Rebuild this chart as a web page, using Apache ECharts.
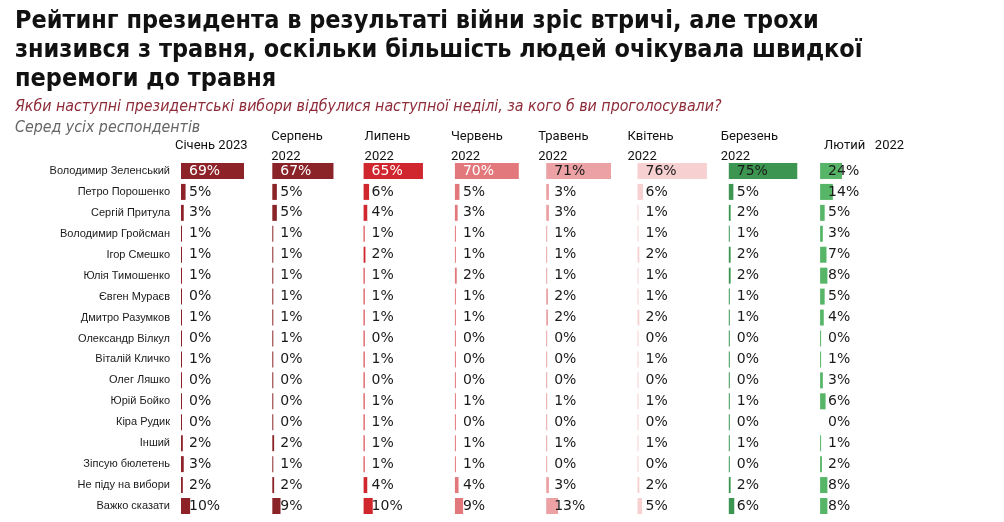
<!DOCTYPE html>
<html>
<head>
<meta charset="utf-8">
<script src="https://cdn.jsdelivr.net/npm/echarts@6/dist/echarts.min.js"></script>
<style>
  html, body { margin: 0; padding: 0; background: #fff; }
  #chart { width: 1004px; height: 522px; }
</style>
</head>
<body>
<div id="chart"></div>
<script>
// candidates, top to bottom
var candidates = [
  'Володимир Зеленський', 'Петро Порошенко', 'Сергій Притула', 'Володимир Гройсман',
  'Ігор Смешко', 'Юлія Тимошенко', 'Євген Мураєв', 'Дмитро Разумков',
  'Олександр Вілкул', 'Віталій Кличко', 'Олег Ляшко', 'Юрій Бойко',
  'Кіра Рудик', 'Інший', 'Зіпсую бюлетень', 'Не піду на вибори', 'Важко сказати'
];

// survey waves, left to right
var waves = ['Січень 2023', 'Серпень\n2022', 'Липень\n2022', 'Червень\n2022',
             'Травень\n2022', 'Квітень\n2022', 'Березень\n2022', 'Лютий   2022'];

var jan23 = [69, 5, 3, 1, 1, 1, 0, 1, 0, 1, 0, 0, 0, 2, 3, 2, 10];
var aug22 = [67, 5, 5, 1, 1, 1, 1, 1, 1, 0, 0, 0, 0, 2, 1, 2, 9];
var jul22 = [65, 6, 4, 1, 2, 1, 1, 1, 0, 1, 0, 1, 1, 1, 1, 4, 10];
var jun22 = [70, 5, 3, 1, 1, 2, 1, 1, 0, 0, 0, 1, 0, 1, 1, 4, 9];
var may22 = [71, 3, 3, 1, 1, 1, 2, 2, 0, 0, 0, 1, 0, 1, 0, 3, 13];
var apr22 = [76, 6, 1, 1, 2, 1, 1, 2, 0, 1, 0, 1, 0, 1, 0, 2, 5];
var mar22 = [75, 5, 2, 1, 2, 2, 1, 1, 0, 0, 0, 1, 0, 1, 0, 2, 6];
var feb22 = [24, 14, 5, 3, 7, 8, 5, 4, 0, 1, 3, 6, 0, 1, 2, 8, 8];

var waveValues = [jan23, aug22, jul22, jun22, may22, apr22, mar22, feb22];
var waveColors = ['#8e2229', '#8b2429', '#d0262e', '#e3787c',
                  '#eca2a5', '#f7d0d2', '#3c9550', '#56b567'];
// white label on the leading bar in these waves
var lightLeadLabel = [true, true, true, true, false, false, false, false];

var colLeft = 181, colW = 91.3, gridTop = 160.5, rowH = 20.94;
// headers are not centred exactly the same way in every column
var headerNudge = [-2, 3, 5, 0, -4, -6, -4, 8];

var grids = [], xAxes = [], yAxes = [], series = [], graphics = [];

waveValues.forEach(function (vals, i) {
  grids.push({
    left: colLeft + i * colW, width: colW,
    top: gridTop, height: rowH * candidates.length
  });
  xAxes.push({ type: 'value', gridIndex: i, min: 0, max: 100, show: false });
  yAxes.push({
    type: 'category', gridIndex: i, data: candidates, inverse: true,
    axisLine: { show: false }, axisTick: { show: false }, splitLine: { show: false },
    axisLabel: {
      show: i === 0, margin: 11, color: '#1a1a1a',
      fontFamily: 'Liberation Sans', fontSize: 11
    }
  });
  series.push({
    type: 'bar', xAxisIndex: i, yAxisIndex: i,
    barWidth: 16, barMinHeight: 1,
    itemStyle: { color: waveColors[i] },
    label: {
      show: true, position: 'insideLeft', distance: 8,
      formatter: '{c}%', color: '#1a1a1a',
      fontFamily: 'DejaVu Sans', fontSize: 14
    },
    data: vals.map(function (v, r) {
      var item = { value: v };
      if (r === 0 && lightLeadLabel[i]) item.label = { color: '#ffffff' };
      // Кіра Рудик was not on the February list: no stub bar
      if (i === 7 && candidates[r] === 'Кіра Рудик') item.itemStyle = { color: 'rgba(0,0,0,0)' };
      return item;
    })
  });
  graphics.push({
    type: 'text', left: colLeft + i * colW + 36 + headerNudge[i] - 40,
    top: waves[i].indexOf('\n') >= 0 ? 127 : 136,
    style: {
      text: waves[i], width: 80, align: 'center',
      font: '13px Roboto', fill: '#111', lineHeight: 20
    }
  });
});

graphics.push({
  type: 'text', left: 15, top: 7,
  style: {
    text: 'Рейтинг президента в результаті війни зріс втричі, але трохи\nзнизився з травня, оскільки більшість людей очікувала швидкої\nперемоги до травня',
    font: 'bold 25px "DejaVu Sans Condensed"', fill: '#111', lineHeight: 29
  }
});
graphics.push({
  type: 'text', left: 15, top: 99,
  style: {
    text: 'Якби наступні президентські вибори відбулися наступної неділі, за кого б ви проголосували?',
    font: 'italic 15.8px "DejaVu Sans Condensed"', fill: '#8e2b38'
  }
});
graphics.push({
  type: 'text', left: 15, top: 120,
  style: {
    text: 'Серед усіх респондентів',
    font: 'italic 15.8px "DejaVu Sans Condensed"', fill: '#666'
  }
});

var chart = echarts.init(document.getElementById('chart'));
chart.setOption({
  animation: false,
  grid: grids,
  xAxis: xAxes,
  yAxis: yAxes,
  series: series,
  graphic: graphics
});
</script>
</body>
</html>
